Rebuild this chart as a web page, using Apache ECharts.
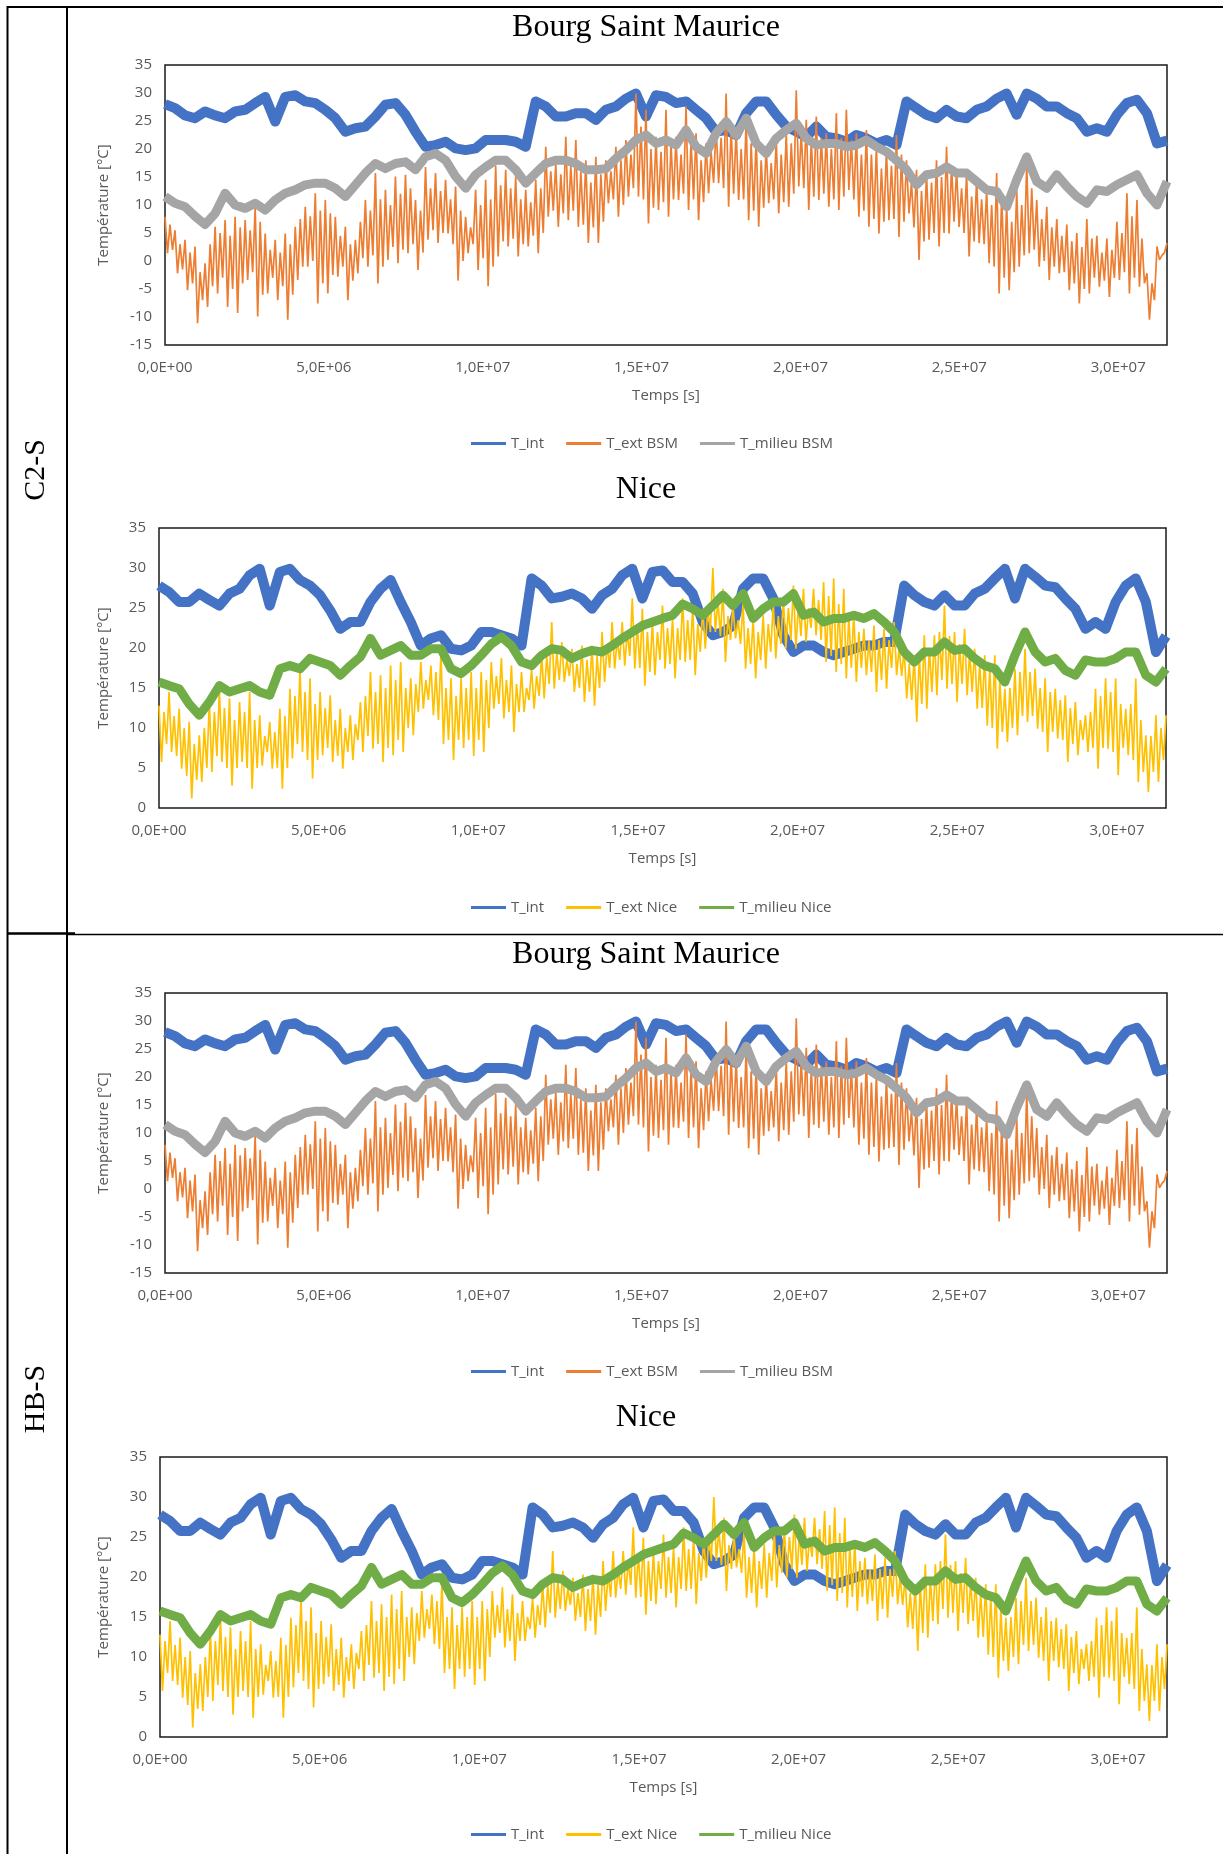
<!DOCTYPE html>
<html>
<head>
<meta charset="utf-8">
<script src="https://cdn.jsdelivr.net/npm/echarts@6/dist/echarts.min.js"></script>
<style>
html, body { margin: 0; padding: 0; background: #fff; }
#chart { width: 1223px; height: 1854px; }
</style>
</head>
<body>
<div id="chart"></div>
<script>
// une annee en secondes, valeurs lues tous les 1/100 d'annee
var yearSeconds = 31536000;
var step = yearSeconds / 100;
var xTickLabels = ['0,0E+00', '5,0E+06', '1,0E+07', '1,5E+07', '2,0E+07', '2,5E+07', '3,0E+07'];

// T_int (Bourg Saint Maurice)
var tIntBsm = [28, 27.3, 26, 25.5, 26.7, 26, 25.5, 26.7, 27, 28.2,
  29.3, 24.9, 29.3, 29.6, 28.5, 28.2, 27, 25.5, 23.1, 23.7,
  24, 25.8, 27.9, 28.2, 26.1, 23.1, 20.4, 20.7, 21.3, 20.1,
  19.8, 20.1, 21.6, 21.6, 21.6, 21.3, 20.4, 28.5, 27.6, 25.8,
  25.8, 26.4, 26.4, 25.2, 27, 27.6, 29, 29.9, 25.8, 29.6,
  29.3, 28.2, 28.5, 27, 25.5, 23.1, 23.4, 22.5, 26.4, 28.5,
  28.5, 26.1, 24, 23.1, 22.2, 24, 22.2, 21.9, 21.3, 22.5,
  21.9, 21, 21.6, 20.7, 28.5, 27.3, 26.1, 25.5, 27, 25.8,
  25.5, 27, 27.6, 29, 29.9, 26.1, 29.9, 29, 27.6, 27.6,
  26.4, 25.5, 23.1, 23.7, 23.1, 26.1, 28.2, 28.8, 26.4, 21, 21.5];

// T_int (Nice)
var tIntNice = [27.8, 27, 25.75, 25.75, 26.8, 26, 25.3, 26.8, 27.4, 29.1,
  29.9, 25.3, 29.5, 29.9, 28.5, 27.8, 26.6, 24.7, 22.4, 23.25,
  23.25, 25.75, 27.4, 28.5, 25.75, 23.25, 20.3, 21.2, 21.6, 19.9,
  19.7, 20.3, 22, 22, 21.6, 21.2, 20.3, 28.7, 27.8, 26.2,
  26.4, 26.8, 26.2, 24.9, 26.6, 27.4, 29.1, 29.9, 26.2, 29.5,
  29.7, 28.25, 28.25, 26.8, 23.25, 21.6, 22, 22.8, 27.4, 28.7,
  28.7, 26.2, 21.6, 19.5, 20.3, 20.3, 19.5, 19.1, 19.5, 19.9,
  20.3, 20.3, 20.75, 20.75, 27.8, 26.6, 25.75, 25.3, 26.6, 25.3,
  25.3, 26.8, 27.4, 28.7, 29.9, 26.2, 29.9, 28.9, 27.8, 27.6,
  26.2, 24.9, 22.4, 23.25, 22.4, 25.75, 27.8, 28.7, 25.75, 19.5, 21.5];

// T_milieu BSM
var tMilBsm = [11.5, 10.3, 9.7, 8, 6.5, 8.5, 12.1, 10, 9.4, 10.3,
  9.1, 10.9, 12.1, 12.7, 13.6, 13.9, 13.9, 13, 11.5, 13.6,
  15.7, 17.4, 16.5, 17.4, 17.7, 16.3, 18.6, 19.2, 18, 15.1,
  13, 15.4, 16.8, 18, 18, 16.3, 13.9, 15.7, 17.4, 18,
  18, 17.4, 16.3, 16.3, 16.5, 18.3, 19.8, 21.6, 22.5, 21,
  21.6, 20.7, 23.4, 20.4, 19.2, 22.8, 24.9, 22.5, 25.5, 21,
  19.2, 21.9, 23.4, 24.6, 21.9, 20.7, 21, 21, 20.4, 20.7,
  21.6, 20.4, 19.5, 18, 16.3, 13.6, 15.4, 15.7, 16.8, 15.7,
  15.7, 14.2, 12.7, 12.4, 9.7, 14.5, 18.6, 14.2, 13, 15.4,
  13.3, 11.5, 10.3, 12.7, 12.4, 13.6, 14.5, 15.4, 12.1, 10, 14.2];

// T_milieu Nice
var tMilNice = [15.75, 15.3, 14.9, 13, 11.6, 13.25, 15.3, 14.5, 14.9, 15.3,
  14.5, 14.1, 17.4, 17.8, 17.4, 18.7, 18.25, 17.8, 16.6, 17.8,
  18.9, 21.2, 19.1, 19.7, 20.3, 19.1, 19.1, 19.9, 19.9, 17.4,
  16.8, 17.8, 19.1, 20.5, 21.4, 20.3, 18.25, 17.8, 19.1, 19.9,
  19.7, 18.7, 19.3, 19.7, 19.5, 20.3, 21.2, 22, 22.8, 23.25,
  23.7, 24.1, 25.5, 24.9, 24.1, 25.3, 26.6, 25.3, 26.8, 23.7,
  24.9, 25.75, 25.75, 26.8, 24.1, 24.5, 23.25, 23.7, 23.7, 24.1,
  23.7, 24.3, 23.25, 22, 19.5, 18.25, 19.5, 19.5, 20.75, 19.7,
  19.9, 18.7, 17.8, 17.4, 15.75, 19.1, 22, 19.5, 18.25, 18.7,
  17.2, 16.6, 18.5, 18.25, 18.25, 18.7, 19.5, 19.5, 16.6, 15.75, 17.4];

// T_ext BSM : pics hauts (t = i, i + 0.5) et creux (t = i + 0.25, i + 0.75)
var tExtBsmHi = [7.9, 5.5, 3.8, 2.6, -0.4, 6.1, 7.3, 7.9, 7.3, 9.7,
  4.9, 3.8, 4.9, 6.1, 9.7, 12.1, 10.9, 7.9, 6.1, 3.8,
  10.9, 15.7, 12.7, 15.1, 15.4, 10.9, 16.8, 15.7, 14.5, 13.3,
  7.9, 12.7, 14.5, 17, 16.3, 15.1, 12.7, 14.5, 20.4, 17.4,
  22.2, 21.6, 18, 18.6, 18, 20.4, 21.6, 29.9, 27, 22.2,
  27, 22.2, 27.6, 22.8, 21, 24, 29.9, 23.4, 25.2, 22.2,
  20.4, 21.6, 22.8, 30.5, 25.2, 25.8, 22.8, 26.4, 27, 22.8,
  23.4, 20.4, 19.8, 22.5, 18, 16.3, 15.7, 18, 20.4, 16.3,
  15.7, 14.5, 12.7, 15.7, 10.3, 12.7, 17.4, 10.9, 9.7, 7.5,
  6.5, 5, 7.5, 4.5, 4, 7, 12.1, 10.9, -2.2, 2.6, 3.2];
var tExtBsmLo = [1.4, -2.2, -5.2, -11.1, -8.2, -5.8, -8.2, -9.3, -3.4, -9.9,
  -5.8, -7, -10.5, -3.4, -1, -7.6, -5.8, -2.8, -7, -2.2,
  -1, -4, 0.2, -0.4, 1.4, -1.6, 3.8, 3.2, 4.9, -3.5,
  1.4, -1.6, -4.5, 0.8, 2.6, 0.8, 2.6, 1.4, 7.9, 6.1,
  7.3, 6.1, 3.2, 3.2, 10.3, 7.9, 11.5, 11.5, 6.7, 9.1,
  7.9, 10.9, 9.1, 7.3, 12.1, 13.9, 9.7, 10.9, 7.3, 6.1,
  10.3, 8.5, 9.7, 13.3, 9.1, 10.9, 9.7, 9.1, 12.7, 7.9,
  6.1, 4.9, 7.3, 4.3, 8.5, 0.2, 3.8, 2.6, 4.9, 6.1,
  0.8, 3.2, -0.4, -5.8, -5.2, -1, 1.4, -1, -3.4, -2.2,
  -5.2, -7.6, -5.8, -4.6, -6.4, -3.4, -5.8, -4.6, -10.5, 0.2];
var tExtBsmHi2 = [6.5, 3, 1.5, -2, 3, 5, 4.5, 6, 5.5, 7,
  2, 1.5, 3, 7.5, 8, 9, 8.5, 4.5, 3, 7,
  9, 11, 10, 12, 13, 9, 13, 12.5, 11, 9,
  6, 10, 11, 13.5, 13, 11, 10.5, 13, 16, 15.5,
  17, 16, 14, 15.5, 16, 18, 19, 24, 20, 19.5,
  21, 19, 21.5, 18, 19.5, 22, 24, 20, 21, 18,
  17.5, 19, 21, 23, 21.5, 22, 20, 22, 21.5, 19,
  19, 16.5, 17, 19, 14, 12.5, 14, 15, 17, 13,
  11.5, 11, 10, 12, 7, 10, 13, 7.5, 6, 4.5,
  3.5, 2.5, 4, 1.5, 2, 5, 8, 4, -4, 1];
var tExtBsmLo2 = [2, -1.5, -4, -7, -4.5, -3, -5, -4, -2, -6,
  -3, -4.5, -6, -1, 0, -4, -2.5, -1, -3.5, 0.5,
  1, -1, 2.5, 2, 3, 1.5, 5.5, 5, 3, 0,
  3, 0.5, -1, 3.5, 4, 3, 4.5, 5, 9, 8.5,
  9, 6.5, 6, 7, 11, 10, 13, 11, 9.5, 10.5,
  11, 12, 11, 10.5, 14, 13, 12, 11, 9, 9.5,
  11, 10.5, 12, 13, 11.5, 12, 11, 11.5, 11, 9,
  7.5, 7, 7.5, 7, 6, 3.5, 5, 5, 7, 5,
  3.5, 3, -1, -3, -2, 1, 2, 0, -1, -2,
  -4, -5, -3, -3.5, -3, -2, -3, -4, -7, 1.5];

// T_ext Nice
var tExtNiceHi = [12.8, 14.5, 12.4, 10.75, 9.1, 13.25, 14.9, 13.7, 13.25, 14.5,
  11.6, 10.75, 12.4, 14.9, 17.4, 16.2, 14.5, 14.1, 12.4, 11.6,
  13.25, 17, 16.6, 17.8, 18.25, 16.2, 18.25, 17.8, 19.5, 16.2,
  16.2, 17, 17, 18.25, 18.7, 17.8, 17, 17.4, 19.1, 23.25,
  20.75, 19.9, 20.3, 20.3, 22, 23.25, 23.25, 26.2, 24.9, 23.25,
  25.3, 23.7, 26.2, 25.3, 24.9, 30, 27.4, 25.3, 25.75, 23.7,
  24.1, 25.75, 26.2, 27.8, 27.4, 27.4, 28.25, 28.7, 27.4, 24.5,
  22.4, 22.8, 22.4, 23.25, 19.9, 19.1, 21.6, 21.6, 25.3, 22,
  22.4, 19.9, 19.1, 19.1, 14.9, 17.4, 19.9, 17.4, 16.2, 14.9,
  14.1, 13.25, 11.6, 14.9, 16.2, 16.2, 12.4, 16.2, 9.1, 11.6, 11.6];
var tExtNiceLo = [5.75, 7, 4.9, 1.2, 3.25, 4.5, 5.75, 2.8, 5.75, 2.4,
  5.3, 4.9, 2.4, 6.2, 7, 3.7, 6.6, 5.75, 4.9, 6,
  7, 7.4, 5.75, 6.6, 7, 9.1, 12.4, 11.6, 8, 6,
  7.5, 6.5, 7, 12.4, 11.2, 9.5, 12, 12.4, 13.7, 14.9,
  15.75, 14.5, 13.25, 12.8, 15.75, 17.4, 17.8, 17.4, 15.3, 16.6,
  17.4, 16.2, 18.25, 16.6, 19.9, 22, 18.25, 21.2, 17.4, 16.2,
  17.4, 18.7, 19.9, 19.9, 20.75, 21.6, 18.25, 17, 16.2, 15.75,
  16.6, 14.5, 14.9, 16.6, 13.7, 10.75, 12.4, 14.1, 14.9, 13.25,
  14.1, 12.4, 10.3, 7.4, 8.25, 9.1, 10.75, 9.9, 7, 8.7,
  5.75, 6.6, 7, 4.9, 7.4, 4.1, 6.6, 3.25, 2, 3.25];
var tExtNiceHi2 = [12, 11.5, 10, 8, 10, 12, 12.5, 11, 12, 11,
  9, 9.5, 11.5, 14, 14.5, 13, 12.5, 11, 10, 10.5,
  14, 14.5, 15, 16, 15, 15.5, 16, 17, 15, 14,
  15, 15, 16, 16.5, 16, 15.5, 15, 16.5, 19, 19.5,
  18.5, 18, 18.5, 19, 20.5, 21, 22, 23, 22, 22,
  22.5, 22.5, 23.5, 23, 25, 26, 24, 23.5, 22.5, 22,
  23, 24, 25, 25.5, 25, 26, 26.5, 25.5, 24, 22,
  21, 21, 21, 20, 18, 19, 20, 22, 21.5, 20.5,
  19.5, 18, 17.5, 16, 15, 17, 17, 15, 14.5, 13.5,
  12.5, 11, 12, 14, 14.5, 13, 13, 11, 9, 10];
var tExtNiceLo2 = [8, 6.5, 4, 3.5, 5, 6.5, 5, 5, 5, 5,
  7, 5, 5, 8, 6, 6, 7.5, 6.5, 7, 8.5,
  9, 8, 7.5, 8.5, 10, 12, 13.5, 11, 8.5, 8.5,
  8.5, 8.5, 10, 13, 12, 12, 13.5, 14, 15.5, 16,
  16.5, 15, 14.5, 15, 17.5, 18.5, 19, 17.5, 17, 18.5,
  18, 18.5, 18.5, 19.5, 22, 21.5, 21, 20.5, 18, 18.5,
  19.5, 20.5, 21, 21.5, 22.5, 21, 19, 18, 17.5, 17.5,
  17, 16, 17.5, 16.5, 13.5, 13, 14.5, 16, 15.5, 15.5,
  14.5, 12.5, 10, 9.5, 10, 11.5, 11.5, 9.5, 9.5, 8.5,
  8, 8.5, 7.5, 7.5, 7, 7.5, 6, 4.5, 4.5, 6];

var colors = {
  int: '#4472C4', extBsm: '#ED7D31', milBsm: '#A5A5A5',
  extNice: '#FFC000', milNice: '#70AD47'
};
var sansFont = "'Open Sans', 'Liberation Sans', sans-serif";
var serifFont = "'Liberation Serif', serif";
var greyText = '#595959';

function centerLine(values) {
  var out = [];
  for (var i = 0; i < values.length; i++) {
    out.push([i * step, values[i]]);
  }
  return out;
}
// alterne pics et creux pour rendre l'oscillation journaliere
function zigzag(hi, lo, hi2, lo2) {
  var out = [];
  for (var i = 0; i < hi.length; i++) {
    out.push([i * step, hi[i]]);
    if (i < lo.length) {
      out.push([(i + 0.25) * step, lo[i]]);
      out.push([(i + 0.5) * step, hi2[i]]);
      out.push([(i + 0.75) * step, lo2[i]]);
    }
  }
  return out;
}

var panels = [
  { title: 'Bourg Saint Maurice', titleY: 28, left: 165, top: 65, width: 1002, yMin: -15, legendY: 445,
    tInt: tIntBsm, extName: 'T_ext BSM', ext: [tExtBsmHi, tExtBsmLo, tExtBsmHi2, tExtBsmLo2], extColor: colors.extBsm,
    milName: 'T_milieu BSM', mil: tMilBsm, milColor: colors.milBsm },
  { title: 'Nice', titleY: 490, left: 159, top: 528, width: 1007, yMin: 0, legendY: 909,
    tInt: tIntNice, extName: 'T_ext Nice', ext: [tExtNiceHi, tExtNiceLo, tExtNiceHi2, tExtNiceLo2], extColor: colors.extNice,
    milName: 'T_milieu Nice', mil: tMilNice, milColor: colors.milNice },
  { title: 'Bourg Saint Maurice', titleY: 955, left: 165, top: 993, width: 1002, yMin: -15, legendY: 1373,
    tInt: tIntBsm, extName: 'T_ext BSM', ext: [tExtBsmHi, tExtBsmLo, tExtBsmHi2, tExtBsmLo2], extColor: colors.extBsm,
    milName: 'T_milieu BSM', mil: tMilBsm, milColor: colors.milBsm },
  { title: 'Nice', titleY: 1418, left: 160, top: 1457, width: 1007, yMin: 0, legendY: 1836,
    tInt: tIntNice, extName: 'T_ext Nice', ext: [tExtNiceHi, tExtNiceLo, tExtNiceHi2, tExtNiceLo2], extColor: colors.extNice,
    milName: 'T_milieu Nice', mil: tMilNice, milColor: colors.milNice }
];

var grids = [], xAxes = [], yAxes = [], legends = [], series = [], graphics = [];

panels.forEach(function (p, k) {
  grids.push({ left: p.left, top: p.top, width: p.width, height: 280,
    show: true, borderColor: '#1a1a1a', borderWidth: 1.5, backgroundColor: 'transparent' });
  xAxes.push({
    type: 'value', gridIndex: k, min: 0, max: yearSeconds, interval: 5e6,
    name: 'Temps [s]', nameLocation: 'middle', nameGap: 43,
    nameTextStyle: { fontFamily: sansFont, fontSize: 15, color: greyText },
    axisLine: { show: false }, axisTick: { show: false }, splitLine: { show: false },
    axisLabel: {
      margin: 15, fontFamily: sansFont, fontSize: 15, color: greyText,
      formatter: function (v) {
        var n = v / 5e6;
        return n === Math.floor(n) && xTickLabels[n] ? xTickLabels[n] : '';
      }
    }
  });
  yAxes.push({
    type: 'value', gridIndex: k, min: p.yMin, max: 35, interval: 5,
    name: 'Température [°C]', nameLocation: 'middle', nameGap: p.left - 111,
    nameTextStyle: { fontFamily: sansFont, fontSize: 15, color: greyText },
    axisLine: { show: false }, axisTick: { show: false }, splitLine: { show: false },
    axisLabel: { margin: 13, fontFamily: sansFont, fontSize: 15, color: greyText }
  });
  legends.push({
    left: 471, top: p.legendY - 9, padding: 0, itemGap: 22, itemWidth: 35, itemHeight: 3,
    icon: 'rect', selectedMode: false,
    textStyle: { fontFamily: sansFont, fontSize: 15, color: greyText },
    data: ['T_int', p.extName, p.milName]
  });
  series.push({
    type: 'line', name: 'T_int', xAxisIndex: k, yAxisIndex: k, data: centerLine(p.tInt),
    color: colors.int, symbol: 'none', showSymbol: false, silent: true,
    lineStyle: { width: 10, color: colors.int, join: 'round' }
  });
  series.push({
    type: 'line', name: p.extName, xAxisIndex: k, yAxisIndex: k,
    data: zigzag(p.ext[0], p.ext[1], p.ext[2], p.ext[3]),
    color: p.extColor, symbol: 'none', showSymbol: false, silent: true,
    lineStyle: { width: 1.7, color: p.extColor }
  });
  series.push({
    type: 'line', name: p.milName, xAxisIndex: k, yAxisIndex: k, data: centerLine(p.mil),
    color: p.milColor, symbol: 'none', showSymbol: false, silent: true,
    lineStyle: { width: 9, color: p.milColor, join: 'round' }
  });
  graphics.push({
    type: 'text', x: 646, y: p.titleY,
    style: { text: p.title, fontFamily: serifFont, fontSize: 32, fill: '#000',
      textAlign: 'center', textVerticalAlign: 'middle', align: 'center', verticalAlign: 'middle' }
  });
});

// cadre du tableau
var frame = [
  [7, 7, 1223, 7, 2], [7.5, 6, 7.5, 1854, 2], [67, 6, 67, 1854, 2],
  [7, 933.5, 75, 933.5, 2.5], [67, 934.5, 1223, 934.5, 1.5]
];
frame.forEach(function (l) {
  graphics.push({ type: 'line', shape: { x1: l[0], y1: l[1], x2: l[2], y2: l[3] },
    style: { stroke: '#000', lineWidth: l[4] } });
});
[['C2-S', 470], ['HB-S', 1399]].forEach(function (r) {
  graphics.push({
    type: 'text', x: 36, y: r[1], rotation: Math.PI / 2,
    style: { text: r[0], fontFamily: serifFont, fontSize: 30, fill: '#000',
      textAlign: 'center', textVerticalAlign: 'middle', align: 'center', verticalAlign: 'middle' }
  });
});

var myChart = echarts.init(document.getElementById('chart'), null, { renderer: 'canvas' });
myChart.setOption({
  animation: false,
  backgroundColor: '#fff',
  grid: grids,
  xAxis: xAxes,
  yAxis: yAxes,
  legend: legends,
  series: series,
  graphic: graphics
});
</script>
</body>
</html>
